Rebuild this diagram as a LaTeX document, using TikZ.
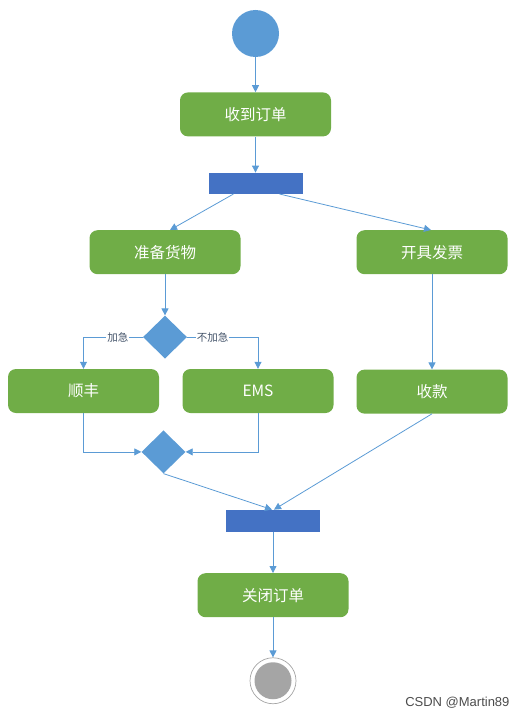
\documentclass[tikz,border=0pt]{standalone}
\usepackage{fontspec}
\setmainfont{Noto Sans CJK SC}
\newfontfamily\markfont{Liberation Sans}
\usepackage{xcolor}
\usepackage{tikz}
\usetikzlibrary{shapes, arrows.meta, positioning}
\definecolor{actgreen}{HTML}{70AD47}
\definecolor{nodeblue}{HTML}{5B9BD5}
\definecolor{barblue}{HTML}{4472C4}
\definecolor{labelgray}{HTML}{44546A}
\definecolor{endgray}{HTML}{A5A5A5}

\begin{document}
\begin{tikzpicture}[
        x=1pt, y=-1pt,
        action/.style={rectangle, rounded corners=8pt, fill=actgreen, text=white, minimum width=151pt, minimum height=44pt, inner sep=0pt, font=\fontsize{15.5}{16}\selectfont},
        sync_bar/.style={rectangle, fill=barblue, minimum width=94pt, minimum height=21pt, inner sep=0pt},
        decision/.style={diamond, fill=nodeblue, minimum width=44pt, minimum height=43pt, inner sep=0pt},
        start_state/.style={circle, fill=nodeblue, minimum size=47pt, inner sep=0pt},
        end_state/.style={circle, draw=endgray, line width=0.7pt, fill=white, minimum size=46pt, inner sep=0pt},
        end_core/.style={circle, fill=endgray, minimum size=37pt, inner sep=0pt},
        guard_label/.style={fill=white, text=labelgray, inner sep=1pt, font=\fontsize{10.5}{11}\selectfont},
        arrow/.style={-{Triangle[length=7pt, width=7pt]}, draw=nodeblue, line width=0.8pt}
    ]
    \useasboundingbox (0,0) rectangle (529,717);
    \node[start_state] (start) at (255.5,33.5) {};
    \node[action, below=35pt of start] (receive_order) {收到订单};
    \node[sync_bar, below=36pt of receive_order] (fork_bar) {};
    \node[action, below=36pt of fork_bar, xshift=-90.5pt] (prepare_goods) {准备货物};
    \node[action, below=36pt of fork_bar, xshift=176.5pt] (issue_invoice) {开具发票};
    \node[decision, below=41pt of prepare_goods] (ship_choice) {};
    \node[action, below=10pt of ship_choice, xshift=-81.5pt] (shunfeng) {顺丰};
    \node[action, below=10pt of ship_choice, xshift=93pt] (ems) {EMS};
    \node[action, below=95pt of issue_invoice] (payment) {收款};
    \node[decision, below=17pt of shunfeng, xshift=80pt] (ship_merge) {};
    \node[sync_bar, minimum height=22pt, below=36pt of ship_merge, xshift=109.5pt] (join_bar) {};
    \node[action, below=41pt of join_bar] (close_order) {关闭订单};
    \node[end_state, below=40pt of close_order] (finish) {};
    \node[end_core] (finish_core) at (finish.center) {};
    \node[text=black!70, font=\markfont\fontsize{13}{13}\selectfont, anchor=east] (watermark) at (513,703) {CSDN @Martin89};
    \draw[arrow] (start) -- (receive_order);
    \draw[arrow] (receive_order) -- (fork_bar);
    \draw[arrow] ([xshift=-22pt]fork_bar.south) -- ([xshift=5pt]prepare_goods.north);
    \draw[arrow] ([xshift=24pt]fork_bar.south) -- ([xshift=-1pt]issue_invoice.north);
    \draw[arrow] (prepare_goods) -- (ship_choice);
    \draw[arrow] (ship_choice.west) -| node[guard_label, pos=0.21] {加急} (shunfeng.north);
    \draw[arrow] (ship_choice.east) -| node[guard_label, pos=0.18] {不加急} (ems.north);
    \draw[arrow] (shunfeng.south) |- (ship_merge.west);
    \draw[arrow] (ems.south) |- (ship_merge.east);
    \draw[arrow] (issue_invoice) -- (payment);
    \draw[arrow] (ship_merge.south) -- ([xshift=-1pt]join_bar.north);
    \draw[arrow] (payment.south) -- ([xshift=1pt]join_bar.north);
    \draw[arrow] (join_bar) -- (close_order);
    \draw[arrow] (close_order) -- (finish);
\end{tikzpicture}
\end{document}
